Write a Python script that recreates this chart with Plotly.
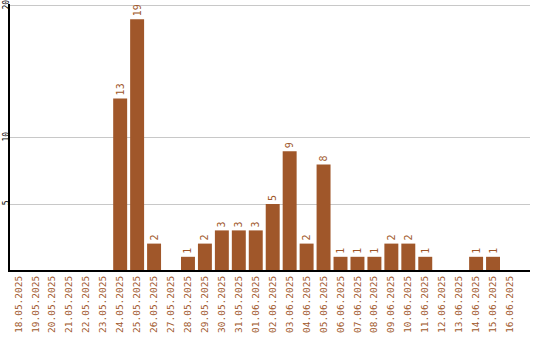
import plotly.graph_objects as go

dates = ["18.05.2025","19.05.2025","20.05.2025","21.05.2025","22.05.2025","23.05.2025",
         "24.05.2025","25.05.2025","26.05.2025","27.05.2025","28.05.2025","29.05.2025",
         "30.05.2025","31.05.2025","01.06.2025","02.06.2025","03.06.2025","04.06.2025",
         "05.06.2025","06.06.2025","07.06.2025","08.06.2025","09.06.2025","10.06.2025",
         "11.06.2025","12.06.2025","13.06.2025","14.06.2025","15.06.2025","16.06.2025"]
counts = [0,0,0,0,0,0,13,19,2,0,1,2,3,3,3,5,9,2,8,1,1,1,2,2,1,0,0,1,1,0]
ytick_vals = [5, 10, 20]

color = "#A0572A"
labels = [str(v) if v else "" for v in counts]

fig = go.Figure(go.Bar(
    x=list(range(len(dates))), y=counts, marker_color=color, marker_line_width=0,
    text=labels, textposition="outside", textangle=-90, cliponaxis=False,
    textfont=dict(family="DejaVu Sans Mono", size=10, color=color),
))
fig.update_layout(
    width=540, height=340, margin=dict(l=10, r=10, t=4, b=70, autoexpand=False),
    paper_bgcolor="white", plot_bgcolor="white", showlegend=False, bargap=3/17,
    font=dict(family="DejaVu Sans Mono", size=9),
    xaxis=dict(range=[-0.5, 30.18], tickmode="array", tickvals=list(range(len(dates))),
               ticktext=dates, tickangle=-90, showgrid=False, showline=True,
               linecolor="black", linewidth=2, ticks="", automargin=False,
               tickfont=dict(family="DejaVu Sans Mono", size=9.5, color=color)),
    yaxis=dict(range=[0, 20.15], tickmode="array", tickvals=ytick_vals, tickangle=-90,
               showgrid=True, gridcolor="#c8c8c8", gridwidth=1, showline=True,
               linecolor="black", linewidth=2, ticks="", zeroline=False, automargin=False,
               ticklabelstandoff=-4, ticklabeloverflow="allow",
               tickfont=dict(family="DejaVu Sans Mono", size=8, color="black")),
)
fig.write_html("out.html")
